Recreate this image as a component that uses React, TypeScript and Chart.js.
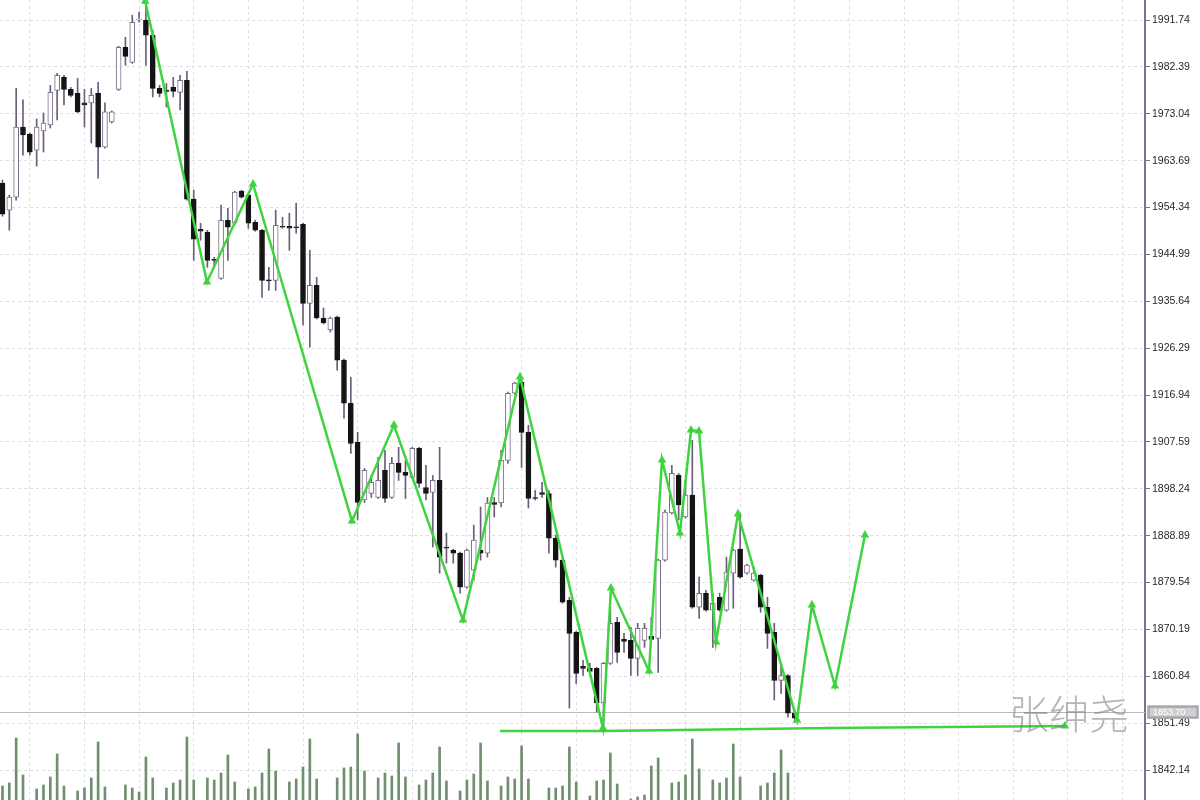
import React, { useEffect, useRef } from "react";
import { Chart, registerables } from "chart.js";

Chart.register(...registerables);

// Candles (index = bar number)
const opens = [
  1959.2, 1953.8, 1956.4, 1970.4, 1969.0, 1965.8, 1969.6, 1970.8, 1977.7, 1980.3,
  1977.9, 1977.1, 1975.2, 1975.2, 1977.1, 1966.4, 1971.4, 1977.9, 1986.3, 1983.3,
  1991.7, 1991.7, 1988.7, 1978.1, 1977.7, 1978.3, 1977.3, 1979.7, 1956.0, 1950.0,
  1949.4, 1944.0, 1940.2, 1951.8, 1951.2, 1957.6, 1956.8, 1951.4, 1949.8, 1939.9,
  1939.8, 1950.6, 1950.6, 1950.4, 1951.0, 1935.2, 1938.8, 1932.3, 1929.9, 1932.5,
  1923.9, 1915.3, 1907.5, 1896.0, 1897.3, 1896.5, 1901.9, 1896.5, 1903.3, 1901.5,
  1900.5, 1906.3, 1898.5, 1897.5, 1899.9, 1886.6, 1886.0, 1885.4, 1878.6, 1882.0,
  1886.0, 1885.4, 1895.5, 1895.4, 1903.9, 1917.3, 1919.5, 1909.5, 1896.5, 1897.5,
  1897.3, 1888.4, 1884.0, 1876.0, 1869.6, 1862.8, 1862.4, 1862.4, 1855.5, 1863.4,
  1871.6, 1868.2, 1868.0, 1864.4, 1868.0, 1868.8, 1868.4, 1884.0, 1893.4, 1900.9,
  1892.6, 1897.0, 1874.6, 1877.4, 1874.0, 1876.6, 1874.0, 1881.4, 1886.2, 1881.4,
  1880.0, 1881.0, 1874.6, 1869.6, 1860.0, 1861.0, 1853.5,
];
const highs = [
  1959.8, 1956.8, 1978.1, 1975.8, 1969.2, 1972.0, 1973.2, 1978.7, 1981.1, 1980.7,
  1978.3, 1980.1, 1977.9, 1978.1, 1979.3, 1975.2, 1973.6, 1986.5, 1988.3, 1992.7,
  1993.3, 1995.7, 1989.7, 1978.7, 1979.1, 1980.3, 1980.7, 1981.5, 1957.8, 1951.2,
  1949.8, 1944.4, 1954.8, 1954.2, 1957.6, 1957.8, 1957.2, 1951.8, 1950.0, 1942.4,
  1953.8, 1952.4, 1953.2, 1955.2, 1951.2, 1945.8, 1940.4, 1934.3, 1932.5, 1932.7,
  1924.1, 1920.5, 1909.5, 1902.3, 1900.9, 1904.5, 1905.9, 1904.5, 1906.5, 1903.9,
  1906.5, 1906.5, 1902.9, 1900.9, 1906.5, 1889.4, 1886.2, 1885.6, 1886.2, 1891.0,
  1894.6, 1896.5, 1896.5, 1905.9, 1917.5, 1919.5, 1920.3, 1910.9, 1897.9, 1899.5,
  1897.9, 1889.0, 1884.4, 1876.6, 1869.8, 1864.0, 1863.4, 1862.6, 1863.6, 1874.6,
  1872.6, 1869.4, 1870.6, 1871.4, 1871.4, 1872.6, 1884.2, 1894.0, 1902.9, 1901.3,
  1899.9, 1907.9, 1880.6, 1878.0, 1877.4, 1877.4, 1884.6, 1886.2, 1893.4, 1883.2,
  1882.6, 1881.2, 1876.6, 1871.4, 1863.4, 1861.2, 1854.1,
];
const lows = [
  1952.6, 1949.8, 1955.8, 1964.8, 1964.8, 1962.6, 1965.4, 1970.2, 1971.8, 1974.8,
  1976.4, 1973.2, 1970.4, 1967.2, 1960.2, 1966.2, 1971.2, 1977.7, 1982.7, 1983.1,
  1991.3, 1982.7, 1976.4, 1976.4, 1974.4, 1976.4, 1973.8, 1955.8, 1943.8, 1947.8,
  1942.4, 1942.4, 1940.0, 1943.8, 1951.0, 1956.2, 1950.2, 1949.6, 1936.4, 1937.8,
  1937.8, 1950.2, 1945.8, 1949.2, 1930.9, 1926.5, 1932.1, 1931.1, 1929.5, 1921.9,
  1912.3, 1905.3, 1892.0, 1895.5, 1896.5, 1896.3, 1895.5, 1896.3, 1899.9, 1896.3,
  1900.3, 1898.5, 1896.0, 1886.6, 1881.4, 1883.4, 1883.4, 1877.4, 1878.4, 1880.0,
  1884.0, 1884.6, 1892.6, 1894.6, 1903.3, 1917.1, 1902.5, 1894.4, 1896.0, 1896.5,
  1885.4, 1882.6, 1875.4, 1854.5, 1859.4, 1861.0, 1861.6, 1853.7, 1850.1, 1863.2,
  1863.6, 1865.6, 1861.0, 1861.0, 1866.6, 1868.0, 1861.6, 1883.8, 1893.2, 1892.0,
  1892.4, 1874.4, 1872.4, 1873.8, 1866.6, 1873.8, 1873.8, 1874.4, 1880.4, 1881.2,
  1879.8, 1873.6, 1866.4, 1856.1, 1857.4, 1852.7, 1851.7,
];
const closes = [
  1953.0, 1956.4, 1970.4, 1968.8, 1965.4, 1970.4, 1971.2, 1977.3, 1980.7, 1977.9,
  1976.7, 1973.4, 1974.8, 1976.7, 1966.4, 1973.4, 1973.4, 1986.3, 1984.5, 1991.3,
  1991.9, 1988.7, 1978.1, 1977.1, 1977.5, 1977.5, 1979.7, 1956.0, 1948.0, 1949.6,
  1943.8, 1943.8, 1951.8, 1950.4, 1957.4, 1956.4, 1951.2, 1949.8, 1939.8, 1939.7,
  1950.8, 1950.4, 1950.2, 1950.3, 1935.2, 1938.8, 1932.3, 1931.3, 1932.3, 1923.9,
  1915.3, 1907.3, 1895.5, 1901.9, 1899.5, 1899.9, 1896.3, 1903.3, 1901.5, 1900.9,
  1906.3, 1899.3, 1897.3, 1899.9, 1884.6, 1886.4, 1885.4, 1878.6, 1886.0, 1888.0,
  1885.4, 1895.4, 1895.1, 1903.9, 1917.3, 1919.3, 1909.5, 1896.3, 1896.3, 1897.1,
  1888.4, 1884.0, 1875.6, 1869.4, 1861.4, 1862.4, 1861.8, 1855.5, 1863.4, 1871.4,
  1865.6, 1867.8, 1864.4, 1870.4, 1870.4, 1868.2, 1884.0, 1893.6, 1901.3, 1895.0,
  1897.0, 1874.6, 1877.4, 1874.0, 1875.4, 1874.0, 1881.6, 1886.0, 1880.6, 1883.0,
  1881.4, 1874.6, 1869.4, 1860.0, 1861.0, 1853.5, 1852.5,
];
const volumes: (number | null)[] = [
  140, 170, 620, 250, null, 110, 150, 230, 460, 140,
  null, 90, 120, 220, 580, 130, null, null, 150, 120,
  80, 430, 220, null, 120, 170, 200, 630, 200, null,
  220, 200, 270, 450, 180, null, 110, 130, 270, 510,
  290, null, 180, 210, 330, 610, 210, null, null, 220,
  320, 330, 660, 290, null, 220, 270, 240, 570, 230,
  null, 150, 200, 270, 530, 190, null, 90, 200, 260,
  570, 190, null, 140, 230, 210, 540, 210, null, null,
  120, 120, 140, 530, 180, null, 40, 190, 200, 470,
  160, null, 10, 30, 50, 340, 420, null, 170, 180,
  250, 610, 310, null, 200, 170, 220, 560, 230, null,
  null, 140, 170, 270, 500, 270, null,
];

// Price scale tick labels
const priceTicks = [
  1991.74, 1982.39, 1973.04, 1963.69, 1954.34, 1944.99, 1935.64, 1926.29, 1916.94,
  1907.59, 1898.24, 1888.89, 1879.54, 1870.19, 1860.84, 1851.49, 1842.14,
];
const priceMin = 1836.16;
const priceMax = 1995.73;
const currentPrice = 1853.7;

// Hand-drawn zigzag (bar index, price)
const zigX = [20.9, 29.94, 36.68, 51.17, 57.32, 67.42, 75.77, 87.92, 89.09, 94.66, 96.56, 99.19, 100.81, 101.98, 104.47, 107.69, 116.33, 118.52, 121.89, 126.28];
const zigY = [1995.5, 1939.48, 1959.03, 1891.8, 1910.95, 1872.05, 1920.53, 1850.51, 1878.44, 1861.88, 1903.97, 1889.41, 1909.95, 1909.75, 1867.66, 1893.2, 1852.1, 1875.04, 1858.89, 1889.01];

// Support line
const supX = [72.84, 87.92, 121.16, 155.56];
const supY = [1849.91, 1849.91, 1850.51, 1850.91];

const gridIdx = [4, 12, 20, 28, 36, 44, 52, 60, 68, 76, 84, 92, 100, 108, 116, 124, 132, 140, 148, 156, 164];
const watermark = "张绅尧";

export default function App() {
  const ref = useRef<HTMLCanvasElement>(null);

  useEffect(() => {
    if (!ref.current) return;
    const idx = opens.map((_, i) => i);
    const bull = idx.map((i) => closes[i] >= opens[i]);
    const wickData = idx.map((i) => ({ x: i, y: [lows[i], highs[i]] }));
    const bodyData = idx.map((i) => ({
      x: i,
      y: [Math.min(opens[i], closes[i]), Math.max(opens[i], closes[i])],
    }));
    const volData = volumes
      .map((v, i) => ({ x: i, y: v }))
      .filter((d) => d.y !== null);
    const zigData = zigX.map((x, i) => ({ x, y: zigY[i] }));
    const supData = supX.map((x, i) => ({ x, y: supY[i] }));

    const priceLinePlugin = {
      id: "priceLine",
      beforeDatasetsDraw(chart: any) {
        const { ctx, chartArea, scales } = chart;
        const y = Math.round(scales.y.getPixelForValue(currentPrice)) + 0.5;
        ctx.save();
        ctx.strokeStyle = "#b9b9bd";
        ctx.lineWidth = 1;
        ctx.beginPath();
        ctx.moveTo(chartArea.left, y);
        ctx.lineTo(chartArea.right, y);
        ctx.stroke();
        ctx.restore();
      },
      afterDraw(chart: any) {
        const { ctx, chartArea, scales } = chart;
        const y = scales.y.getPixelForValue(currentPrice);
        ctx.save();
        ctx.fillStyle = "#cfcfd2";
        ctx.fillRect(chartArea.right + 3, y - 6, 50, 12);
        ctx.strokeStyle = "#a8a8ac";
        ctx.strokeRect(chartArea.right + 3.5, y - 5.5, 49, 11);
        ctx.fillStyle = "#ffffff";
        ctx.font = "9px 'Liberation Sans'";
        ctx.textBaseline = "middle";
        ctx.fillText(currentPrice.toFixed(2), chartArea.right + 8, y + 0.5);
        ctx.restore();
      },
    };

    const chart = new Chart(ref.current, {
      type: "bar",
      data: {
        datasets: [
          {
            type: "line",
            data: zigData as any,
            borderColor: "#3fd43f",
            backgroundColor: "#3fd43f",
            borderWidth: 2.5,
            pointRadius: 2.5,
            pointStyle: "triangle",
            tension: 0,
            clip: false,
            order: 0,
          } as any,
          {
            type: "line",
            data: supData as any,
            borderColor: "#3fd43f",
            backgroundColor: "#3fd43f",
            borderWidth: 2.5,
            pointRadius: [0, 0, 0, 2.5],
            pointStyle: "triangle",
            tension: 0,
            order: 0,
          } as any,
          {
            type: "bar",
            data: bodyData as any,
            grouped: false,
            barThickness: 5,
            minBarLength: 1,
            backgroundColor: bull.map((b) => (b ? "#ffffff" : "#141414")),
            borderColor: bull.map((b) => (b ? "#7a6c88" : "#141414")),
            borderWidth: 1,
            borderSkipped: false,
            order: 1,
          } as any,
          {
            type: "bar",
            data: wickData as any,
            grouped: false,
            barThickness: 1,
            backgroundColor: "#6d5d7c",
            order: 2,
          } as any,
          {
            type: "bar",
            data: volData as any,
            yAxisID: "yv",
            grouped: false,
            barThickness: 2,
            backgroundColor: "#6f8f6f",
            order: 3,
          } as any,
        ],
      },
      options: {
        animation: false,
        responsive: false,
        maintainAspectRatio: false,
        layout: { padding: 0, autoPadding: false },
        plugins: { legend: { display: false }, tooltip: { enabled: false } },
        scales: {
          x: {
            type: "linear",
            min: -0.366,
            max: 167.28,
            offset: false,
            afterBuildTicks: (s: any) => {
              s.ticks = gridIdx.map((v) => ({ value: v }));
            },
            afterFit: (s: any) => {
              s.height = 0;
            },
            ticks: { display: false },
            grid: { color: "#dddde4", drawTicks: false, offset: false },
            border: { display: false, dash: [3, 3] },
          },
          y: {
            type: "linear",
            position: "right",
            min: priceMin,
            max: priceMax,
            afterBuildTicks: (s: any) => {
              s.ticks = priceTicks.map((v) => ({ value: v }));
            },
            afterFit: (s: any) => {
              s.width = 55;
              s.paddingTop = 0;
              s.paddingBottom = 0;
            },
            ticks: {
              color: "#262626",
              font: { family: "'Liberation Sans'", size: 10.5 },
              padding: 2,
              autoSkip: false,
              callback: (v: any) => Number(v).toFixed(2),
            },
            grid: {
              color: "#dddde4",
              drawTicks: true,
              tickLength: 5,
              tickColor: "#7d6f8c",
              tickBorderDash: [],
            } as any,
            border: { display: true, color: "#7d6f8c", width: 2, dash: [3, 3] },
          },
          yv: {
            type: "linear",
            display: false,
            min: 0,
            max: 8000,
          },
        },
      } as any,
      plugins: [priceLinePlugin],
    });
    return () => chart.destroy();
  }, []);

  return (
    <div
      style={{
        position: "fixed",
        left: 0,
        top: 0,
        width: 1200,
        height: 800,
        background: "#ffffff",
        overflow: "hidden",
      }}
    >
      <canvas ref={ref} width={1200} height={800} style={{ display: "block" }} />
      <div
        style={{
          position: "absolute",
          left: 1009,
          top: 692,
          fontFamily: "'Noto Sans CJK SC'",
          fontWeight: 300,
          fontSize: 40,
          lineHeight: 1,
          color: "rgba(120,120,125,0.55)",
          pointerEvents: "none",
          whiteSpace: "nowrap",
        }}
      >
        {watermark}
      </div>
    </div>
  );
}
